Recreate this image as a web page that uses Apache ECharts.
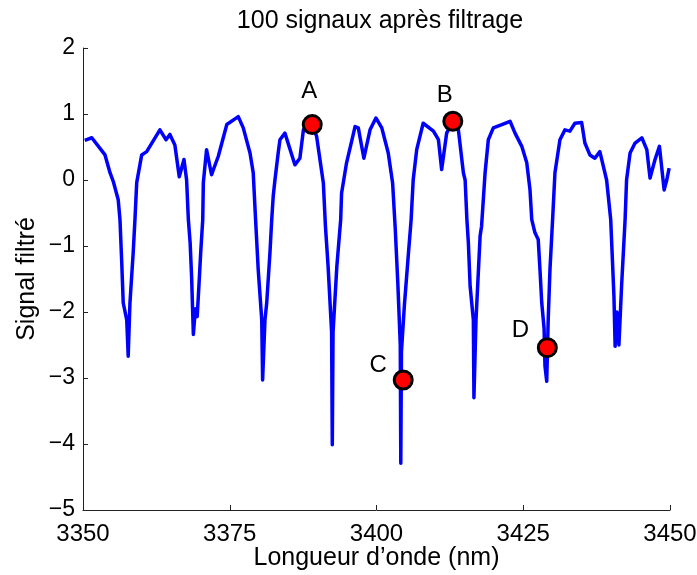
<!DOCTYPE html>
<html>
<head>
<meta charset="utf-8">
<script src="https://cdn.jsdelivr.net/npm/echarts@6/dist/echarts.min.js"></script>
<style>
  html, body { margin: 0; padding: 0; background: #fff; }
  #chart { width: 697px; height: 575px; }
</style>
</head>
<body>
<div id="chart"></div>
<script>
// ---- Data ----
const titleText = '100 signaux après filtrage';
const xAxisName = 'Longueur d\u2019onde (nm)';
const yAxisName = 'Signal filtré';

const xTicks = [3350, 3375, 3400, 3425, 3450];
const yTicks = [-5, -4, -3, -2, -1, 0, 1, 2];

const wavelength = [
  3350.3, 3351.5, 3353.75, 3354.6, 3355.15, 3356.0, 3356.3, 3356.6, 3356.85, 3357.45,
  3357.7, 3357.9, 3358.0, 3358.55, 3358.85, 3359.15, 3360.0, 3360.85, 3363.1, 3364.15,
  3364.8, 3365.65, 3366.4, 3367.2, 3367.65, 3367.95, 3368.25, 3368.5, 3368.8, 3369.15,
  3369.45, 3369.75, 3370.05, 3370.4, 3370.5, 3371.05, 3371.9, 3373.05, 3374.5, 3376.45,
  3377.3, 3378.45, 3379.0, 3379.4, 3379.85, 3380.45, 3380.6, 3381.0, 3381.3, 3381.85,
  3382.15, 3382.4, 3382.7, 3383.25, 3383.55, 3384.4, 3386.1, 3386.95, 3387.55, 3389.05,
  3389.8, 3390.95, 3391.3, 3391.75, 3392.35, 3392.47, 3392.6, 3393.25, 3393.9, 3394.05,
  3394.9, 3396.35, 3396.9, 3397.85, 3398.9, 3399.9, 3400.9, 3402.0, 3402.75, 3403.2,
  3403.65, 3404.05, 3404.14, 3404.25, 3404.75, 3405.45, 3405.9, 3406.25, 3406.85, 3407.95,
  3409.7, 3410.55, 3411.1, 3411.95, 3413.0, 3413.95, 3414.8, 3415.1, 3415.4, 3415.65,
  3415.95, 3416.5, 3416.6, 3416.95, 3417.65, 3417.9, 3418.5, 3419.05, 3419.9, 3421.35,
  3422.75, 3423.6, 3424.75, 3425.6, 3426.15, 3426.45, 3427.0, 3427.55, 3427.85, 3428.15,
  3428.55, 3428.7, 3429.0, 3429.25, 3429.55, 3430.0, 3430.4, 3431.25, 3432.1, 3432.95,
  3433.8, 3434.95, 3435.5, 3436.35, 3437.2, 3438.05, 3439.2, 3439.9, 3440.45, 3440.65,
  3440.95, 3441.3, 3441.75, 3442.35, 3442.6, 3443.2, 3444.05, 3445.2, 3446.05, 3446.6,
  3447.45, 3448.2, 3449.0, 3449.45, 3449.85
];
const signal = [
  0.60, 0.64, 0.38, 0.11, -0.02, -0.30, -0.60, -1.25, -1.86, -2.12,
  -2.67, -2.12, -1.86, -1.10, -0.60, -0.04, 0.38, 0.43, 0.76, 0.61,
  0.69, 0.53, 0.05, 0.31, 0.00, -0.60, -0.95, -1.46, -2.34, -1.95,
  -2.07, -1.60, -1.10, -0.60, -0.04, 0.46, 0.08, 0.36, 0.84, 0.96,
  0.79, 0.41, 0.11, -0.60, -1.36, -2.12, -3.03, -2.12, -1.86, -1.10,
  -0.60, -0.25, 0.00, 0.41, 0.61, 0.71, 0.23, 0.33, 0.76, 0.84,
  0.66, -0.05, -0.70, -1.30, -2.30, -4.01, -2.30, -1.30, -0.60, -0.20,
  0.26, 0.81, 0.79, 0.33, 0.76, 0.94, 0.79, 0.41, -0.05, -0.75,
  -1.60, -2.50, -4.29, -2.60, -1.90, -1.10, -0.60, 0.00, 0.46, 0.86,
  0.74, 0.61, 0.16, 0.71, 0.89, 0.76, 0.11, 0.00, -0.60, -0.95,
  -1.61, -2.12, -3.30, -2.12, -0.85, -0.70, 0.11, 0.61, 0.79, 0.84,
  0.89, 0.71, 0.51, 0.26, -0.15, -0.60, -0.80, -0.90, -1.36, -1.86,
  -2.25, -2.82, -3.05, -2.12, -1.36, -0.60, 0.11, 0.61, 0.76, 0.74,
  0.86, 0.87, 0.56, 0.38, 0.33, 0.43, 0.00, -0.60, -1.76, -2.52,
  -2.00, -2.50, -1.61, -0.60, 0.00, 0.41, 0.56, 0.64, 0.46, 0.03,
  0.31, 0.51, -0.15, 0.00, 0.18
];

const markerNames = ['A', 'B', 'C', 'D'];
const markerX = [3389.05, 3413.0, 3404.55, 3429.1];
const markerY = [0.84, 0.89, -3.03, -2.54];

// ---- Styles (kept apart from the data) ----
const FONT = "'Liberation Sans', Arial, Helvetica, sans-serif";
const labelOffsets = { A: [-3, -33], B: [-8, -26], C: [-25, -15], D: [-27, -17] };
const fmtNum = v => (v < 0 ? '\u2212' + Math.abs(v) : String(v));

const lineData = wavelength.map((x, i) => [x, signal[i]]);
const markerData = markerNames.map((n, i) => ({
  name: n,
  value: [markerX[i], markerY[i]],
  label: { offset: labelOffsets[n] }
}));

const chart = echarts.init(document.getElementById('chart'), null, { renderer: 'canvas' });
chart.setOption({
  animation: false,
  backgroundColor: '#ffffff',
  title: {
    text: titleText,
    left: 375,
    textAlign: 'center',
    top: 4,
    textStyle: { fontFamily: FONT, fontSize: 25, fontWeight: 'normal', color: '#000' }
  },
  grid: { left: 83, right: 27, top: 48, bottom: 65, containLabel: false, outerBoundsMode: 'none' },
  xAxis: {
    type: 'value',
    min: xTicks[0],
    max: xTicks[xTicks.length - 1],
    interval: xTicks[1] - xTicks[0],
    name: xAxisName,
    nameLocation: 'middle',
    nameGap: 36,
    nameMoveOverlap: false,
    nameTextStyle: { fontFamily: FONT, fontSize: 25, color: '#000' },
    axisLine: { show: true, onZero: false, lineStyle: { color: '#222', width: 1 } },
    axisTick: { show: true, inside: true, length: 5, lineStyle: { color: '#222' } },
    axisLabel: { fontFamily: FONT, fontSize: 24, color: '#000', margin: 12, formatter: fmtNum },
    splitLine: { show: false }
  },
  yAxis: {
    type: 'value',
    min: yTicks[0],
    max: yTicks[yTicks.length - 1],
    interval: 1,
    name: yAxisName,
    nameLocation: 'middle',
    nameRotate: 90,
    nameGap: 43,
    nameMoveOverlap: false,
    nameTextStyle: { fontFamily: FONT, fontSize: 25, color: '#000' },
    axisLine: { show: true, onZero: false, lineStyle: { color: '#222', width: 1 } },
    axisTick: { show: true, inside: true, length: 5, lineStyle: { color: '#222' } },
    axisLabel: { fontFamily: FONT, fontSize: 23, color: '#000', margin: 8, padding: [9, 0, 0, 0], formatter: fmtNum },
    splitLine: { show: false }
  },
  series: [
    {
      type: 'line',
      data: lineData,
      showSymbol: false,
      smooth: false,
      lineStyle: { color: '#0000ff', width: 3.5, join: 'round' },
      z: 2
    },
    {
      type: 'scatter',
      data: markerData,
      symbol: 'circle',
      symbolSize: 18,
      itemStyle: { color: '#ff0000', borderColor: '#000', borderWidth: 3, opacity: 1 },
      label: {
        show: true,
        position: 'inside',
        formatter: p => p.name,
        fontFamily: FONT,
        fontSize: 24,
        color: '#000'
      },
      z: 5
    }
  ]
});
</script>
</body>
</html>
